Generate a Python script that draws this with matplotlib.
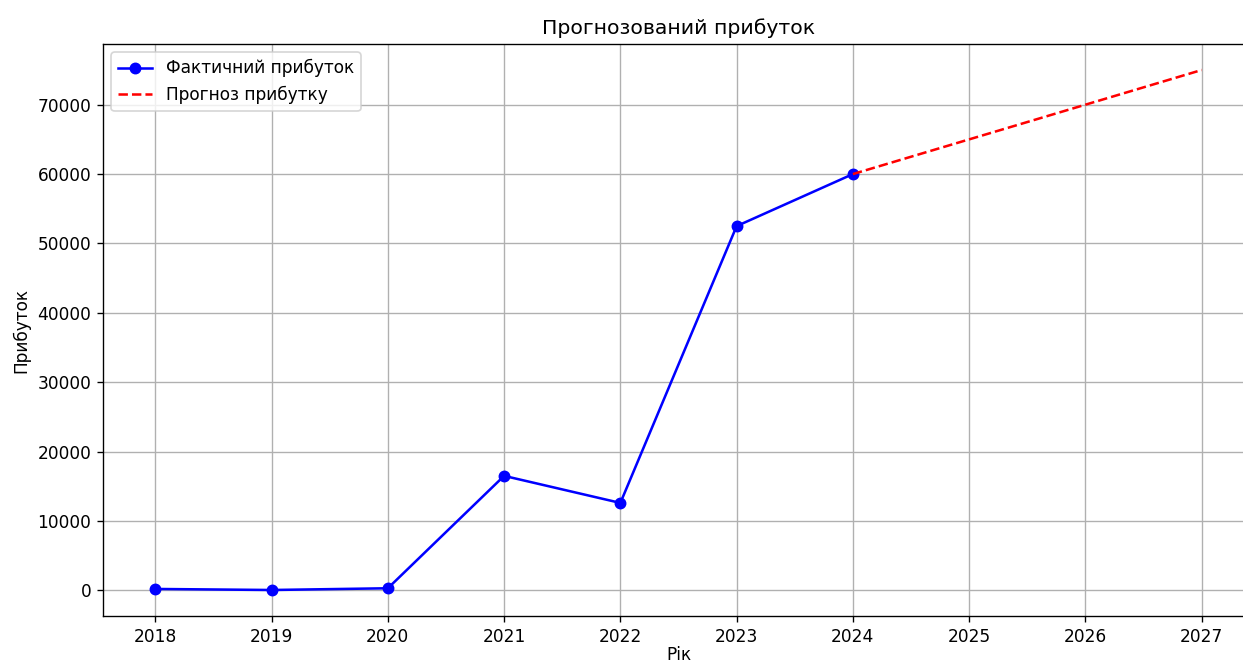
import numpy as np
import matplotlib.pyplot as plt

# actual profit
years = [2018, 2019, 2020, 2021, 2022, 2023, 2024]
profit = [200, 50, 300, 16500, 12600, 52500, 60000]

# forecast
forecast_years = [2024, 2025, 2026, 2027]
forecast = [60000, 65000, 70000, 75000]

DPI = 122
fig = plt.figure(figsize=(1243 / DPI, 666 / DPI), dpi=DPI)
# the reference is cropped on the right, so the axes run past the edge
ax = fig.add_axes([103 / 1243, 50 / 666, 1151 / 1243, 572 / 666])

ax.plot(years, profit, 'bo-', label='Фактичний прибуток')
ax.plot(forecast_years, forecast, 'r--', label='Прогноз прибутку')

ax.set_xticks(years + forecast_years[1:])
ax.set_title('Прогнозований прибуток')
ax.set_xlabel('Рік', labelpad=0)
ax.set_ylabel('Прибуток')
ax.legend(loc='upper left')
ax.grid(True)

fig.savefig('out.png', dpi=DPI)
